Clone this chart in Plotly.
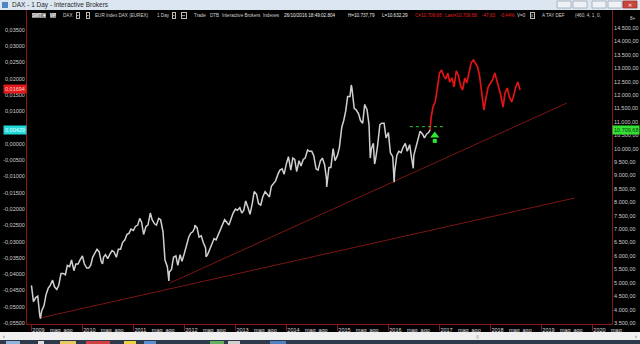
import pandas as pd
import plotly.graph_objects as go

# ---------------- data ----------------
# DAX daily chart, semi-monthly samples (1st / 15th of each month), right axis (price)
white_2009 = [4900, 4300, 4450, 4500, 3800, 3950, 4150, 4550, 4800, 4900, 5100, 4850,
              4750, 4900, 5350, 5350, 5300, 5650, 5600, 5850, 5450, 5700, 5700, 5850]
white_2010 = [6000, 5700, 5550, 5550, 5650, 5950, 6150, 6250, 6150, 5800, 5950, 6050,
              5900, 6050, 6200, 6150, 5950, 6250, 6250, 6500, 6600, 6800, 6850, 7000]
white_2011 = [6950, 7100, 7150, 7400, 7250, 6800, 7100, 7150, 7500, 7350, 7200, 7150,
              7400, 7350, 6900, 5850, 5600, 5400, 5500, 5950, 6000, 5650, 6050, 5800]
white_2012 = [6100, 6400, 6700, 6850, 6900, 7050, 7050, 6700, 6750, 6500, 6300, 6050,
              6250, 6400, 6650, 6600, 6800, 7000, 7200, 7350, 7250, 7150, 7400, 7600]
white_2013 = [7750, 7700, 7800, 7600, 7700, 8050, 7800, 7550, 7950, 8400, 8300, 7950,
              7900, 8200, 8400, 8300, 8200, 8600, 8700, 8800, 9050, 9200, 9250, 9050]
white_2014 = [9450, 9700, 9200, 9650, 9600, 9150, 9550, 9350, 9600, 9650, 9950, 9900,
              9900, 9750, 9250, 9200, 9550, 9650, 9400, 8850, 9300, 9300, 10000, 9550]
white_2015 = [9750, 10050, 10800, 11050, 11400, 11950, 11950, 12250, 11500, 11450, 11300, 11050,
              10950, 11650, 11450, 10900, 10000, 10200, 9600, 10100, 10900, 10950, 10950, 10400]
white_2016 = [10600, 9850, 9700, 9150, 9750, 9900, 9850, 10050, 10200, 9900, 10150, 9650,
              9750, 10050, 10300, 10650, 10550, 10400, 10550, 10600]

extreme_dates = ["2009-03-06", "2010-05-25", "2011-05-02", "2011-09-12", "2012-03-16",
                 "2012-06-04", "2014-10-16", "2015-04-10", "2015-08-24", "2015-09-24",
                 "2016-02-11", "2016-06-27", "2016-10-26"]
extreme_values = [3666, 5700, 7600, 5072, 7150, 5970, 8570, 12375, 9650, 9430, 8752, 9268, 10709.68]

# red continuation (semi-monthly from 2016-11-01 to 2018-08-01)
red_values = [11144, 11554, 11750, 12200, 12822, 12934, 12700, 12600, 12822, 12486, 12635,
              12300, 12900, 12750, 12350, 12188, 12635, 12449, 12950, 13200, 13307, 13195,
              13045, 12700, 12076, 11442, 11927, 12300, 12450, 12561, 12822, 12561, 12300,
              12000, 11554, 12076, 12262, 11950, 11740, 11950, 12300, 12486, 12188]

trend1_dates = ["2011-09-19", "2019-07-01"]
trend1_prices = [4990, 11700]
trend2_dates = ["2009-03-02", "2019-08-27"]
trend2_prices = [3686, 8161]

level_dates = ["2016-06-03", "2017-02-08"]
level_prices = [10820, 10820]
signal_dates = ["2016-11-28"]
signal_prices = [10430]

right_ticks = [3500, 4000, 4500, 5000, 5500, 6000, 6500, 7000, 7500, 8000, 8500, 9000,
               9500, 10000, 10500, 11000, 11500, 12000, 12500, 13000, 13500, 14000, 14500]
left_ticks = [0.035, 0.030, 0.025, 0.020, 0.015, 0.010, 0.005, 0.0, -0.005, -0.010, -0.015,
              -0.020, -0.025, -0.030, -0.035, -0.040, -0.045, -0.050, -0.055]
years = list(range(2009, 2021))
month_labels = ["mag", "ago"]

# ---------------- build series ----------------
white_vals = (white_2009 + white_2010 + white_2011 + white_2012 + white_2013 +
              white_2014 + white_2015 + white_2016)
white_dates = pd.date_range("2009-01-01", "2016-10-15", freq="SMS")
df = pd.concat([
    pd.DataFrame({"d": white_dates, "v": white_vals}),
    pd.DataFrame({"d": pd.to_datetime(extreme_dates), "v": extreme_values}),
]).sort_values("d")

red_dates = pd.date_range("2016-11-01", "2018-08-01", freq="SMS")
red_x = [pd.Timestamp("2016-10-26")] + list(red_dates)
red_y = [10709.68] + red_values


def it_num(v, dec):
    s = f"{v:,.{dec}f}"
    return s.replace(",", "X").replace(".", ",").replace("X", ".")


def left_lbl(v):
    if abs(v) < 1e-12:
        v = 0.0
    return f"{v:.5f}".replace(".", ",")


tickvals, ticktext = [], []
for y in years:
    tickvals.append(f"{y}-01-01"); ticktext.append(str(y))
    tickvals.append(f"{y}-05-01"); ticktext.append(month_labels[0])
    tickvals.append(f"{y}-08-01"); ticktext.append(month_labels[1])

# ---------------- layout helpers ----------------
W, H = 640, 344
ML, MR, MT, MB = 27, 28, 10, 20
PW, PH = W - ML - MR, H - MT - MB


def px(x):
    return (x - ML) / PW


def py(y):
    return (H - MB - y) / PH


AXC = "#8a1616"
TXT = "#cfcfcf"
FONT = "Liberation Sans"

fig = go.Figure()

fig.add_trace(go.Scatter(x=trend1_dates, y=trend1_prices, mode="lines",
                         line=dict(color="#7a1414", width=1), hoverinfo="skip"))
fig.add_trace(go.Scatter(x=trend2_dates, y=trend2_prices, mode="lines",
                         line=dict(color="#7a1414", width=1), hoverinfo="skip"))
fig.add_trace(go.Scatter(x=df["d"], y=df["v"], mode="lines",
                         line=dict(color="#d0d0d0", width=1.5), hoverinfo="skip"))
fig.add_trace(go.Scatter(x=red_x, y=red_y, mode="lines",
                         line=dict(color="#e01414", width=1.7), hoverinfo="skip"))
fig.add_trace(go.Scatter(x=level_dates, y=level_prices, mode="lines",
                         line=dict(color="#33cc33", width=1, dash="dot"), hoverinfo="skip"))
# green up arrow (head + stem)
fig.add_trace(go.Scatter(x=signal_dates, y=[p - 140 for p in signal_prices], mode="markers",
                         marker=dict(symbol="square", size=4, color="#2ee82e"), hoverinfo="skip"))
fig.add_trace(go.Scatter(x=signal_dates, y=[p + 60 for p in signal_prices], mode="markers",
                         marker=dict(symbol="triangle-up", size=8, color="#2ee82e"), hoverinfo="skip"))
# dummy trace for the left axis
fig.add_trace(go.Scatter(x=["2009-01-01"], y=[0], yaxis="y2", mode="markers",
                         marker=dict(opacity=0), hoverinfo="skip"))

shapes = []
annotations = []


def rect(x0, y0, x1, y1, fill, line=None, layer="above"):
    shapes.append(dict(type="rect", xref="paper", yref="paper",
                       x0=px(x0), x1=px(x1), y0=py(y1), y1=py(y0),
                       fillcolor=fill, layer=layer,
                       line=dict(width=0.8 if line else 0, color=line or fill)))


def text(x, y, s, color=TXT, size=4.6, anchor="left", bg=None, border=None):
    annotations.append(dict(x=px(x), y=py(y), xref="paper", yref="paper", text=s,
                            showarrow=False, xanchor=anchor, yanchor="middle",
                            font=dict(color=color, size=size, family=FONT),
                            bgcolor=bg, bordercolor=border, borderwidth=1 if border else 0,
                            borderpad=0))


# title bar
rect(0, 0, 640, 10, "#dce6f1")
rect(2, 2, 8, 8, "#4f86c6")
text(12, 5, "DAX - 1 Day - Interactive Brokers", color="#2a2a2a", size=6.5)
for bx in [557, 573, 592, 608]:
    rect(bx, 1, bx + 14, 8, "#eef2f7", line="#9aa6b4")
rect(623, 1, 637, 8, "#c9463d", line="#a0302a")
text(630, 4.5, "✕", color="white", size=5, anchor="center")

# header row
text(32, 15, "SMT ▾", color="white", size=4.5, bg="#8a8a8a")
text(50, 15, "VP", color="white", size=4.5, bg="#8a8a8a")
text(63, 15, "DAX")
text(76, 15, "▪", size=4.5, border="#bbbbbb")
text(86, 15, "▪", size=4.5, border="#bbbbbb")
text(95, 15, "EUR Index DAX (EUREX)")
text(157, 15, "1 Day")
text(172, 15, "▪", size=4.5, border="#bbbbbb")
text(181, 15, "▪▪", size=4.5, border="#bbbbbb")
text(194, 15, "Trade")
text(210, 15, "DTB")
text(222, 15, "Interactive Brokers")
text(263, 15, "Indexes")
text(284, 15, "26/10/2016 18:49:02.804", color="#e8e8e8")
text(348, 15, "H=10.737,79", color="#e8e8e8")
text(382, 15, "L=10.632,29", color="#e8e8e8")
text(415, 15, "C=10.709,68", color="#e02020")
text(445, 15, "Last=10.709,68", color="#e02020")
text(482, 15, "-47,63", color="#e02020")
text(500, 15, "-0,44%", color="#e02020")
text(517, 15, "V=0")
text(530, 15, "x", size=4.5, border="#bbbbbb")
text(542, 15, "A TAY DEF")
text(575, 15, "(460, 4, 1, 0,")
text(630, 18, "8+")

# axis tags
annotations.append(dict(x=1, y=10709.68, xref="paper", yref="y", text="10.709,68",
                        showarrow=False, xanchor="left", yanchor="middle",
                        font=dict(color="#0a3a0a", size=5.5, family=FONT),
                        bgcolor="#33e033", borderpad=1))
annotations.append(dict(x=0, y=0.01694, xref="paper", yref="y2", text="0,01694",
                        showarrow=False, xanchor="right", yanchor="middle",
                        font=dict(color="#ffd0d0", size=5.5, family=FONT),
                        bgcolor="#e01818", borderpad=1))
annotations.append(dict(x=0, y=0.00429, xref="paper", yref="y2", text="0,00429",
                        showarrow=False, xanchor="right", yanchor="middle",
                        font=dict(color="#eaffff", size=5.5, family=FONT),
                        bgcolor="#20d8d8", borderpad=1))

# bottom scrollbar + taskbar
rect(0, 332, 640, 340, "#f0f0f0", layer="below")
text(3, 336, "‹", color="#555555", size=6)
text(636, 336, "›", color="#555555", size=6, anchor="center")
text(477, 336, "|||", color="#999999", size=4, anchor="center")
rect(0, 340, 640, 344, "#2e3a4b", layer="below")
for x0, x1, c in [(6, 20, "#8fb3d9"), (38, 44, "#dddddd"), (60, 76, "#e8c860"),
                  (86, 110, "#d04040"), (124, 136, "#f0d040"), (144, 156, "#5a8fd0"),
                  (210, 224, "#60b060"), (228, 240, "#d0d0d0"), (270, 286, "#5080c0")]:
    rect(x0, 341, x1, 344, c, layer="below")

fig.update_layout(
    width=W, height=H,
    margin=dict(l=ML, r=MR, t=MT, b=MB, autoexpand=False),
    paper_bgcolor="black", plot_bgcolor="black",
    showlegend=False, hovermode=False,
    shapes=shapes, annotations=annotations,
    font=dict(family=FONT, color=TXT, size=5.5),
    xaxis=dict(type="date", range=["2008-11-30", "2020-05-20"],
               showgrid=False, zeroline=False, showline=True, linecolor=AXC, linewidth=1,
               tickvals=tickvals, ticktext=ticktext, ticks="", ticklabelshift=7,
               tickfont=dict(size=5.5, color="#dddddd"),
               minor=dict(dtick="M12", tick0="2009-01-01", ticks="outside",
                          ticklen=6, tickcolor=AXC, showgrid=False),
               fixedrange=True),
    yaxis=dict(side="right", range=[3463, 15171], showgrid=False, zeroline=False,
               showline=True, linecolor=AXC, linewidth=1,
               tickvals=right_ticks, ticktext=[it_num(v, 2) for v in right_ticks],
               ticks="", tickfont=dict(size=5.5, color=TXT), automargin=False),
    yaxis2=dict(side="left", overlaying="y", range=[-0.0553, 0.04114], showgrid=False,
                zeroline=False, showline=True, linecolor=AXC, linewidth=1,
                tickvals=left_ticks, ticktext=[left_lbl(v) for v in left_ticks],
                ticks="", tickfont=dict(size=5.5, color=TXT), automargin=False),
)

fig.write_html("out.html")
